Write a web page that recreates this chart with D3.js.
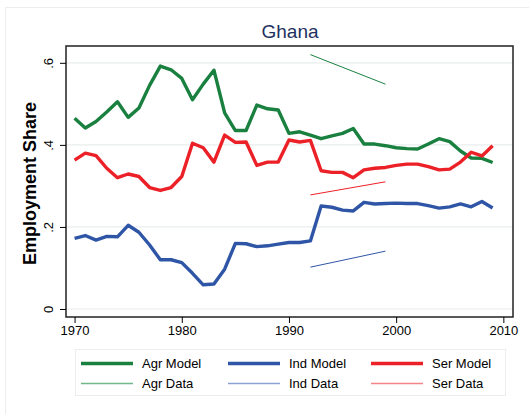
<!DOCTYPE html>
<html lang="en">
<head>
    <meta charset="UTF-8">
    <title>Ghana</title>
    <script src="https://cdnjs.cloudflare.com/ajax/libs/d3/7.8.5/d3.min.js"></script>
    <style>
        body {
            margin: 0;
            background-color: #ffffff;
            font-family: 'Liberation Sans', Arial, sans-serif;
        }
        .grid line { stroke: #eaeeee; stroke-width: 1.2px; }
        .axis text { font-size: 13px; fill: #000; }
        .axis line, .axis path { stroke: #000; }
    </style>
</head>
<body>
    <div id="chart"></div>
    <script>
        const years = d3.range(1970, 2010);
        const agrModel = [0.465, 0.441, 0.457, 0.480, 0.505, 0.467, 0.490, 0.545, 0.592, 0.583,
                          0.562, 0.510, 0.548, 0.582, 0.478, 0.435, 0.435, 0.497, 0.488, 0.485,
                          0.428, 0.432, 0.424, 0.415, 0.422, 0.428, 0.440, 0.402, 0.402, 0.398,
                          0.393, 0.391, 0.390, 0.402, 0.415, 0.408, 0.385, 0.368, 0.367, 0.357];
        const indModel = [0.172, 0.179, 0.168, 0.177, 0.176, 0.204, 0.187, 0.156, 0.120, 0.120,
                          0.113, 0.087, 0.059, 0.061, 0.097, 0.160, 0.159, 0.152, 0.154, 0.158,
                          0.162, 0.162, 0.166, 0.251, 0.248, 0.241, 0.239, 0.260, 0.256, 0.257,
                          0.258, 0.257, 0.257, 0.252, 0.246, 0.249, 0.256, 0.249, 0.262, 0.246];
        const serModel = [0.363, 0.380, 0.374, 0.343, 0.320, 0.329, 0.323, 0.296, 0.289, 0.296,
                          0.323, 0.404, 0.393, 0.358, 0.424, 0.406, 0.407, 0.350, 0.358, 0.358,
                          0.412, 0.407, 0.411, 0.337, 0.333, 0.333, 0.320, 0.339, 0.343, 0.345,
                          0.350, 0.353, 0.353, 0.347, 0.339, 0.341, 0.358, 0.382, 0.373, 0.398];
        const dataYears = [1992, 1999];
        const agrData = [0.620, 0.548];
        const indData = [0.102, 0.141];
        const serData = [0.278, 0.310];
        const yTicks = [0, 0.2, 0.4, 0.6];
        const xTicks = [1970, 1980, 1990, 2000, 2010];

        const green = "#1a8040", blue = "#2f56a6", red = "#ec2027";
        const greenLt = "#6fb98a", blueLt = "#8aa2d2", redLt = "#f58486";

        const W = 529, H = 414;
        const plot = {left: 66, right: 513, top: 46, bottom: 317};

        const svg = d3.select("#chart").append("svg")
            .attr("width", W).attr("height", H);

        // outer figure border
        svg.append("rect")
            .attr("x", 5.5).attr("y", 7.5)
            .attr("width", W).attr("height", H)
            .attr("fill", "#fff").attr("stroke", "#eceeee");

        const x = d3.scaleLinear().domain([1969.2, 2010.9]).range([plot.left, plot.right]);
        const y = d3.scaleLinear().domain([-0.0195, 0.641]).range([plot.bottom, plot.top]);

        // grid
        svg.append("g").attr("class", "grid")
            .selectAll("line").data(yTicks).enter().append("line")
            .attr("x1", plot.left).attr("x2", plot.right)
            .attr("y1", d => y(d)).attr("y2", d => y(d));

        // lines
        const line = d3.line().x(d => x(d[0])).y(d => y(d[1]));
        const series = [
            {vals: agrModel, yrs: years, color: green, w: 3.4},
            {vals: indModel, yrs: years, color: blue, w: 3.4},
            {vals: serModel, yrs: years, color: red, w: 3.4},
            {vals: agrData, yrs: dataYears, color: green, w: 1},
            {vals: indData, yrs: dataYears, color: blue, w: 1},
            {vals: serData, yrs: dataYears, color: red, w: 1}
        ];
        svg.selectAll(".series").data(series).enter().append("path")
            .attr("class", "series")
            .attr("fill", "none")
            .attr("stroke", d => d.color)
            .attr("stroke-width", d => d.w)
            .attr("stroke-linejoin", "round")
            .attr("d", d => line(d.yrs.map((yr, i) => [yr, d.vals[i]])));

        // frame
        svg.append("rect")
            .attr("x", plot.left).attr("y", plot.top)
            .attr("width", plot.right - plot.left).attr("height", plot.bottom - plot.top)
            .attr("fill", "none").attr("stroke", "#222").attr("stroke-width", 1.5);

        // x axis
        const xAxis = svg.append("g").attr("class", "axis")
            .attr("transform", `translate(0,${plot.bottom})`)
            .call(d3.axisBottom(x).tickValues(xTicks).tickFormat(d3.format("d")).tickSize(6).tickPadding(3));
        xAxis.select(".domain").remove();

        // y axis
        const yAxis = svg.append("g").attr("class", "axis")
            .attr("transform", `translate(${plot.left},0)`)
            .call(d3.axisLeft(y).tickValues(yTicks).tickSize(6)
                .tickFormat(d => d === 0 ? "0" : d3.format(".1f")(d).replace(/^0/, "")));
        yAxis.select(".domain").remove();
        yAxis.selectAll("text")
            .attr("x", 0).attr("dy", 0)
            .attr("text-anchor", "middle")
            .attr("transform", "translate(-18,0) rotate(-90)")
            .attr("dominant-baseline", "central");

        // title
        svg.append("text")
            .attr("x", 290).attr("y", 38)
            .attr("text-anchor", "middle")
            .attr("font-size", "19px")
            .attr("fill", "#1e3160")
            .text("Ghana");

        svg.append("text")
            .attr("transform", `translate(36,${(plot.top + plot.bottom) / 2 + 2}) rotate(-90)`)
            .attr("text-anchor", "middle")
            .attr("font-size", "18px")
            .attr("font-weight", "bold")
            .text("Employment Share");

        // legend
        const legend = svg.append("g");
        legend.append("rect")
            .attr("x", 75.5).attr("y", 349.5)
            .attr("width", 430).attr("height", 46)
            .attr("fill", "#fff").attr("stroke", "#eceeee");
        const items = [
            {label: "Agr Model", color: green, w: 3.4, col: 0, row: 0},
            {label: "Ind Model", color: blue, w: 3.4, col: 1, row: 0},
            {label: "Ser Model", color: red, w: 3.4, col: 2, row: 0},
            {label: "Agr Data", color: greenLt, w: 1.6, col: 0, row: 1},
            {label: "Ind Data", color: blueLt, w: 1.6, col: 1, row: 1},
            {label: "Ser Data", color: redLt, w: 1.6, col: 2, row: 1}
        ];
        const colX = [81, 228, 371];
        const rowY = [363.5, 383.5];
        const li = legend.selectAll(".li").data(items).enter().append("g")
            .attr("transform", d => `translate(${colX[d.col]},${rowY[d.row]})`);
        li.append("line")
            .attr("x1", 0).attr("x2", 52)
            .attr("stroke", d => d.color)
            .attr("stroke-width", d => d.w);
        li.append("text")
            .attr("x", 61).attr("dy", "0.36em")
            .attr("font-size", "13px")
            .text(d => d.label);
    </script>
</body>
</html>
